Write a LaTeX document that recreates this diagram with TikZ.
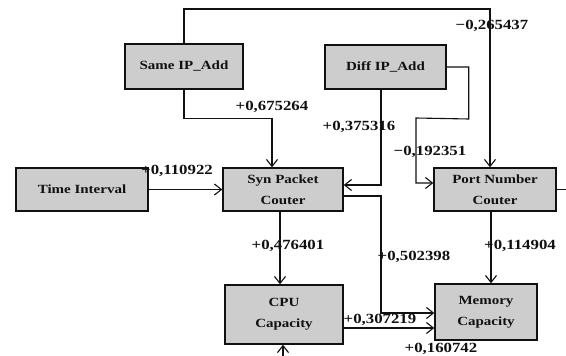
\documentclass[tikz,border=0pt]{standalone}
\usepackage{fontspec}
\setmainfont{Liberation Serif}[FakeStretch=1.2, BoldFeatures={FakeStretch=1.2}]
\usepackage{xcolor}
\usepackage{tikz}
\definecolor{boxGray}{HTML}{CDCDCD}
\definecolor{inkBlack}{HTML}{111111}
\usetikzlibrary{arrows.meta}

\begin{document}
\begin{tikzpicture}[
  x=1pt, y=-1pt,
  font=\fontsize{12.5}{15}\selectfont\bfseries,
  >={Straight Barb[length=7pt,width=11pt]},
  box/.style={draw=inkBlack, line width=1.4pt, fill=boxGray, align=center, text=inkBlack, inner sep=0pt},
  flow/.style={->, line width=1.1pt, inkBlack},
  weight/.style={text=inkBlack, inner sep=0pt, font=\fontsize{14}{17}\selectfont\bfseries}
]
\useasboundingbox (0,0) rectangle (566,356);

% Input factors
\node[box, minimum width=118pt, minimum height=45pt] (same) at (184,66.5) {Same IP\_Add};
\node[box, minimum width=121pt, minimum height=44pt] (diff) at (385.5,67) {Diff IP\_Add};
\node[box, minimum width=132pt, minimum height=43pt] (time) at (82,189.5) {Time Interval};

% Counters
\node[box, minimum width=120pt, minimum height=43pt] (syn) at (283,189.5) {Syn Packet\\[6pt]Couter};
\node[box, minimum width=122pt, minimum height=43pt] (port) at (495,189.5) {Port Number\\[6pt]Couter};

% Resources
\node[box, minimum width=118pt, minimum height=59pt] (cpu) at (284,314.5) {CPU\\[6pt]Capacity};
\node[box, minimum width=102pt, minimum height=56pt] (mem) at (486,312) {Memory\\[6pt]Capacity};

% Free ends of the connectors
\coordinate (top) at (490,9);
\coordinate (bend) at (416,118);
\coordinate (drop) at (381,313);
\coordinate (pout) at (566,188);
\coordinate (cin) at (283,362);

% Connectors
\draw[flow] (same.north) |- (top) -- ([xshift=-5pt]port.north);
\draw[flow] (same.south) -- ++(0,29) -| ([xshift=-11pt]syn.north);
\draw[flow] ([xshift=-4.5pt]diff.south) |- ([yshift=4.5pt]syn.east);
\draw[flow] (diff.east) -| ++(22,52) -- (bend) |- ([yshift=6.5pt]port.west);
\draw[flow] (time.east) -- (syn.west);
\draw[flow] ([xshift=-3pt]syn.south) -- ([xshift=-3pt]syn.south |- cpu.north);
\draw[flow] ([yshift=-6.5pt]syn.east) -| (drop) -- (drop -| mem.west);
\draw[flow] ([yshift=-13.5pt]cpu.east) -- ([yshift=-13.5pt]cpu.east -| mem.west);
\draw[flow] ([xshift=-4pt]port.south) -- ([xshift=-4pt]port.south |- mem.north);
\draw[line width=1.1pt, inkBlack] (port.east) -- (port.east -| pout);
\draw[flow] (cin) -- (cin |- cpu.south);

% Weights
\node[weight] (w1) at (492,26) {−0,265437};
\node[weight] (w2) at (272,107) {+0,675264};
\node[weight] (w3) at (359,127) {+0,375316};
\node[weight] (w4) at (430,152) {−0,192351};
\node[weight] (w5) at (177,171) {+0,110922};
\node[weight] (w6) at (288,246) {+0,476401};
\node[weight] (w7) at (414,257) {+0,502398};
\node[weight] (w8) at (520,246) {+0,114904};
\node[weight] (w9) at (380,320) {+0,307219};
\node[weight] (w10) at (441,349) {+0,160742};

\end{tikzpicture}
\end{document}
